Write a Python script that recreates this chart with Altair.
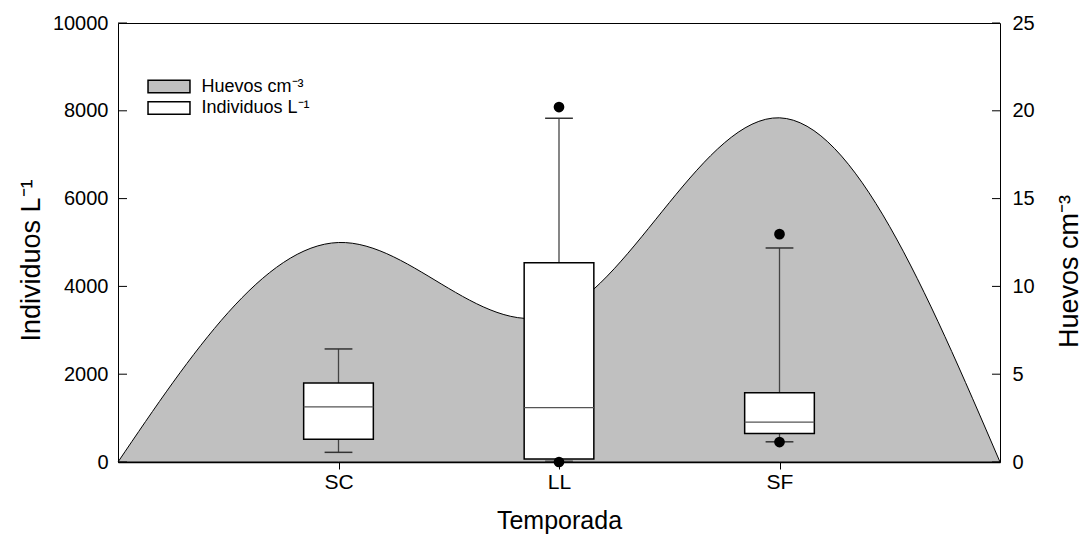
import altair as alt
import pandas as pd

# ---- data ----
categories = ["SC", "LL", "SF"]
cat_pos = [1, 2, 3]
q1 = [520, 70, 650]
median = [1255, 1240, 910]
q3 = [1800, 4540, 1575]
whisk_lo = [220, 15, 460]
whisk_hi = [2575, 7830, 4875]

outlier_cat = ["LL", "LL", "SF", "SF"]
outlier_val = [8085, 0, 5190, 455]

area_x = [0, 1, 2, 3, 4]
huevos = [0, 12.5, 8.5, 19.6, 0]

left_ticks = [0, 2000, 4000, 6000, 8000, 10000]
right_ticks = [0, 5, 10, 15, 20, 25]

LEG_H = "Huevos cm\u207b\u00b3"
LEG_I = "Individuos L\u207b\u00b9"

# ---- layout ----
W, H = 882, 439
HALF_BOX = 0.158
HALF_CAP = 0.063
FONT = "Liberation Sans"

box_df = pd.DataFrame({"cat": categories, "pos": cat_pos, "q1": q1, "med": median,
                       "q3": q3, "lo": whisk_lo, "hi": whisk_hi})
box_df["serie"] = LEG_I
pos_map = dict(zip(categories, cat_pos))
out_df = pd.DataFrame({"cat": outlier_cat, "val": outlier_val})
out_df["pos"] = out_df["cat"].map(pos_map)
area_df = pd.DataFrame({"x": area_x, "huevos": huevos})
area_df["serie"] = LEG_H


def xs():
    return alt.Scale(domain=[0, 4], nice=False, zero=False)


def yl():
    return alt.Scale(domain=[0, 10000], nice=False, zero=True)


def yr():
    return alt.Scale(domain=[0, 25], nice=False, zero=True)


fill_scale = alt.Scale(domain=[LEG_H, LEG_I], range=["#c0c0c0", "#ffffff"])

label_expr = " : ".join(f"datum.value == {p} ? '{c}'" for p, c in zip(cat_pos, categories)) + " : ''"


def x_axis():
    return alt.Axis(values=cat_pos, labelExpr=label_expr, title="Temporada", tickSize=7,
                    tickColor="black", domain=True, domainColor="black", domainWidth=1.5,
                    labelPadding=2, titlePadding=16, labelFontSize=21, titleFontSize=25,
                    grid=False)


def X(field):
    return alt.X(field, scale=xs(), axis=x_axis(), title="Temporada")


legend = alt.Legend(orient="none", legendX=39.5, legendY=52, title=None,
                    symbolType="M-2,-0.6H2V0.6H-2Z", symbolSize=440,
                    symbolStrokeColor="black", symbolStrokeWidth=1.5,
                    labelFontSize=18, labelFont=FONT, labelColor="black",
                    labelOffset=21, rowPadding=0.5, padding=0)

area = alt.Chart(area_df).mark_area(interpolate="natural", stroke="black", strokeWidth=1).encode(
    x=X("x:Q"),
    y=alt.Y("huevos:Q", scale=yr(),
            axis=alt.Axis(orient="right", values=right_ticks, ticks=False, labelPadding=12,
                          title=LEG_H, titleAngle=270, titleBaseline="top", titlePadding=22,
                          titleY=248, titleFontSize=27, domain=False, grid=False)),
    fill=alt.Fill("serie:N", scale=fill_scale, legend=legend),
)
rticks = alt.Chart(pd.DataFrame({"v": right_ticks})).mark_rule(color="black", strokeWidth=1).encode(
    y=alt.Y("v:Q", scale=yr(), axis=None),
    x=alt.value(W - 8), x2=alt.value(W),
)

base = alt.Chart(box_df).transform_calculate(
    xl=f"datum.pos - {HALF_BOX}", xr=f"datum.pos + {HALF_BOX}",
    cl=f"datum.pos - {HALF_CAP}", cr=f"datum.pos + {HALF_CAP}",
)
whisk_up = base.mark_rule(color="#444444", strokeWidth=1.3).encode(
    x=X("pos:Q"),
    y=alt.Y("q3:Q", scale=yl(),
            axis=alt.Axis(orient="left", values=left_ticks, ticks=False, labelPadding=10,
                          format="d", title=LEG_I, titlePadding=7, titleFontSize=27,
                          titleY=237, domain=False, grid=False)),
    y2="hi:Q",
)
whisk_dn = base.mark_rule(color="#444444", strokeWidth=1.3).encode(
    x=X("pos:Q"),
    y=alt.Y("lo:Q", scale=yl(), axis=None), y2="q1:Q",
)
cap_up = base.mark_rule(color="#333333", strokeWidth=1.5).encode(
    x=X("cl:Q"), x2="cr:Q",
    y=alt.Y("hi:Q", scale=yl(), axis=None),
)
cap_dn = base.mark_rule(color="#333333", strokeWidth=1.5).encode(
    x=X("cl:Q"), x2="cr:Q",
    y=alt.Y("lo:Q", scale=yl(), axis=None),
)
box = base.mark_rect(stroke="black", strokeWidth=1.5).encode(
    x=X("xl:Q"), x2="xr:Q",
    y=alt.Y("q1:Q", scale=yl(), axis=None), y2="q3:Q",
    fill=alt.Fill("serie:N", scale=fill_scale, legend=None),
)
med = base.mark_rule(color="#555555", strokeWidth=1.2).encode(
    x=X("xl:Q"), x2="xr:Q",
    y=alt.Y("med:Q", scale=yl(), axis=None),
)
outliers = alt.Chart(out_df).mark_circle(size=115, color="black", opacity=1).encode(
    x=X("pos:Q"),
    y=alt.Y("val:Q", scale=yl(), axis=None),
)
lticks = alt.Chart(pd.DataFrame({"v": left_ticks})).mark_rule(color="black", strokeWidth=1).encode(
    y=alt.Y("v:Q", scale=yl(), axis=None),
    x=alt.value(0), x2=alt.value(9),
)

chart = alt.layer(area, rticks, whisk_up, whisk_dn, cap_up, cap_dn, box, med, outliers, lticks
                  ).resolve_scale(y="independent").properties(
    width=W, height=H,
    autosize=alt.AutoSizeParams(type="none"),
    padding={"left": 118, "top": 23, "right": 91, "bottom": 79},
).configure_view(stroke="black", strokeWidth=1).configure_axis(
    labelFont=FONT, titleFont=FONT, labelFontSize=20, titleFontSize=23,
    labelColor="black", titleColor="black", titleFontWeight="normal",
)

chart.save("out.html", embed_options={"renderer": "svg", "actions": False})
